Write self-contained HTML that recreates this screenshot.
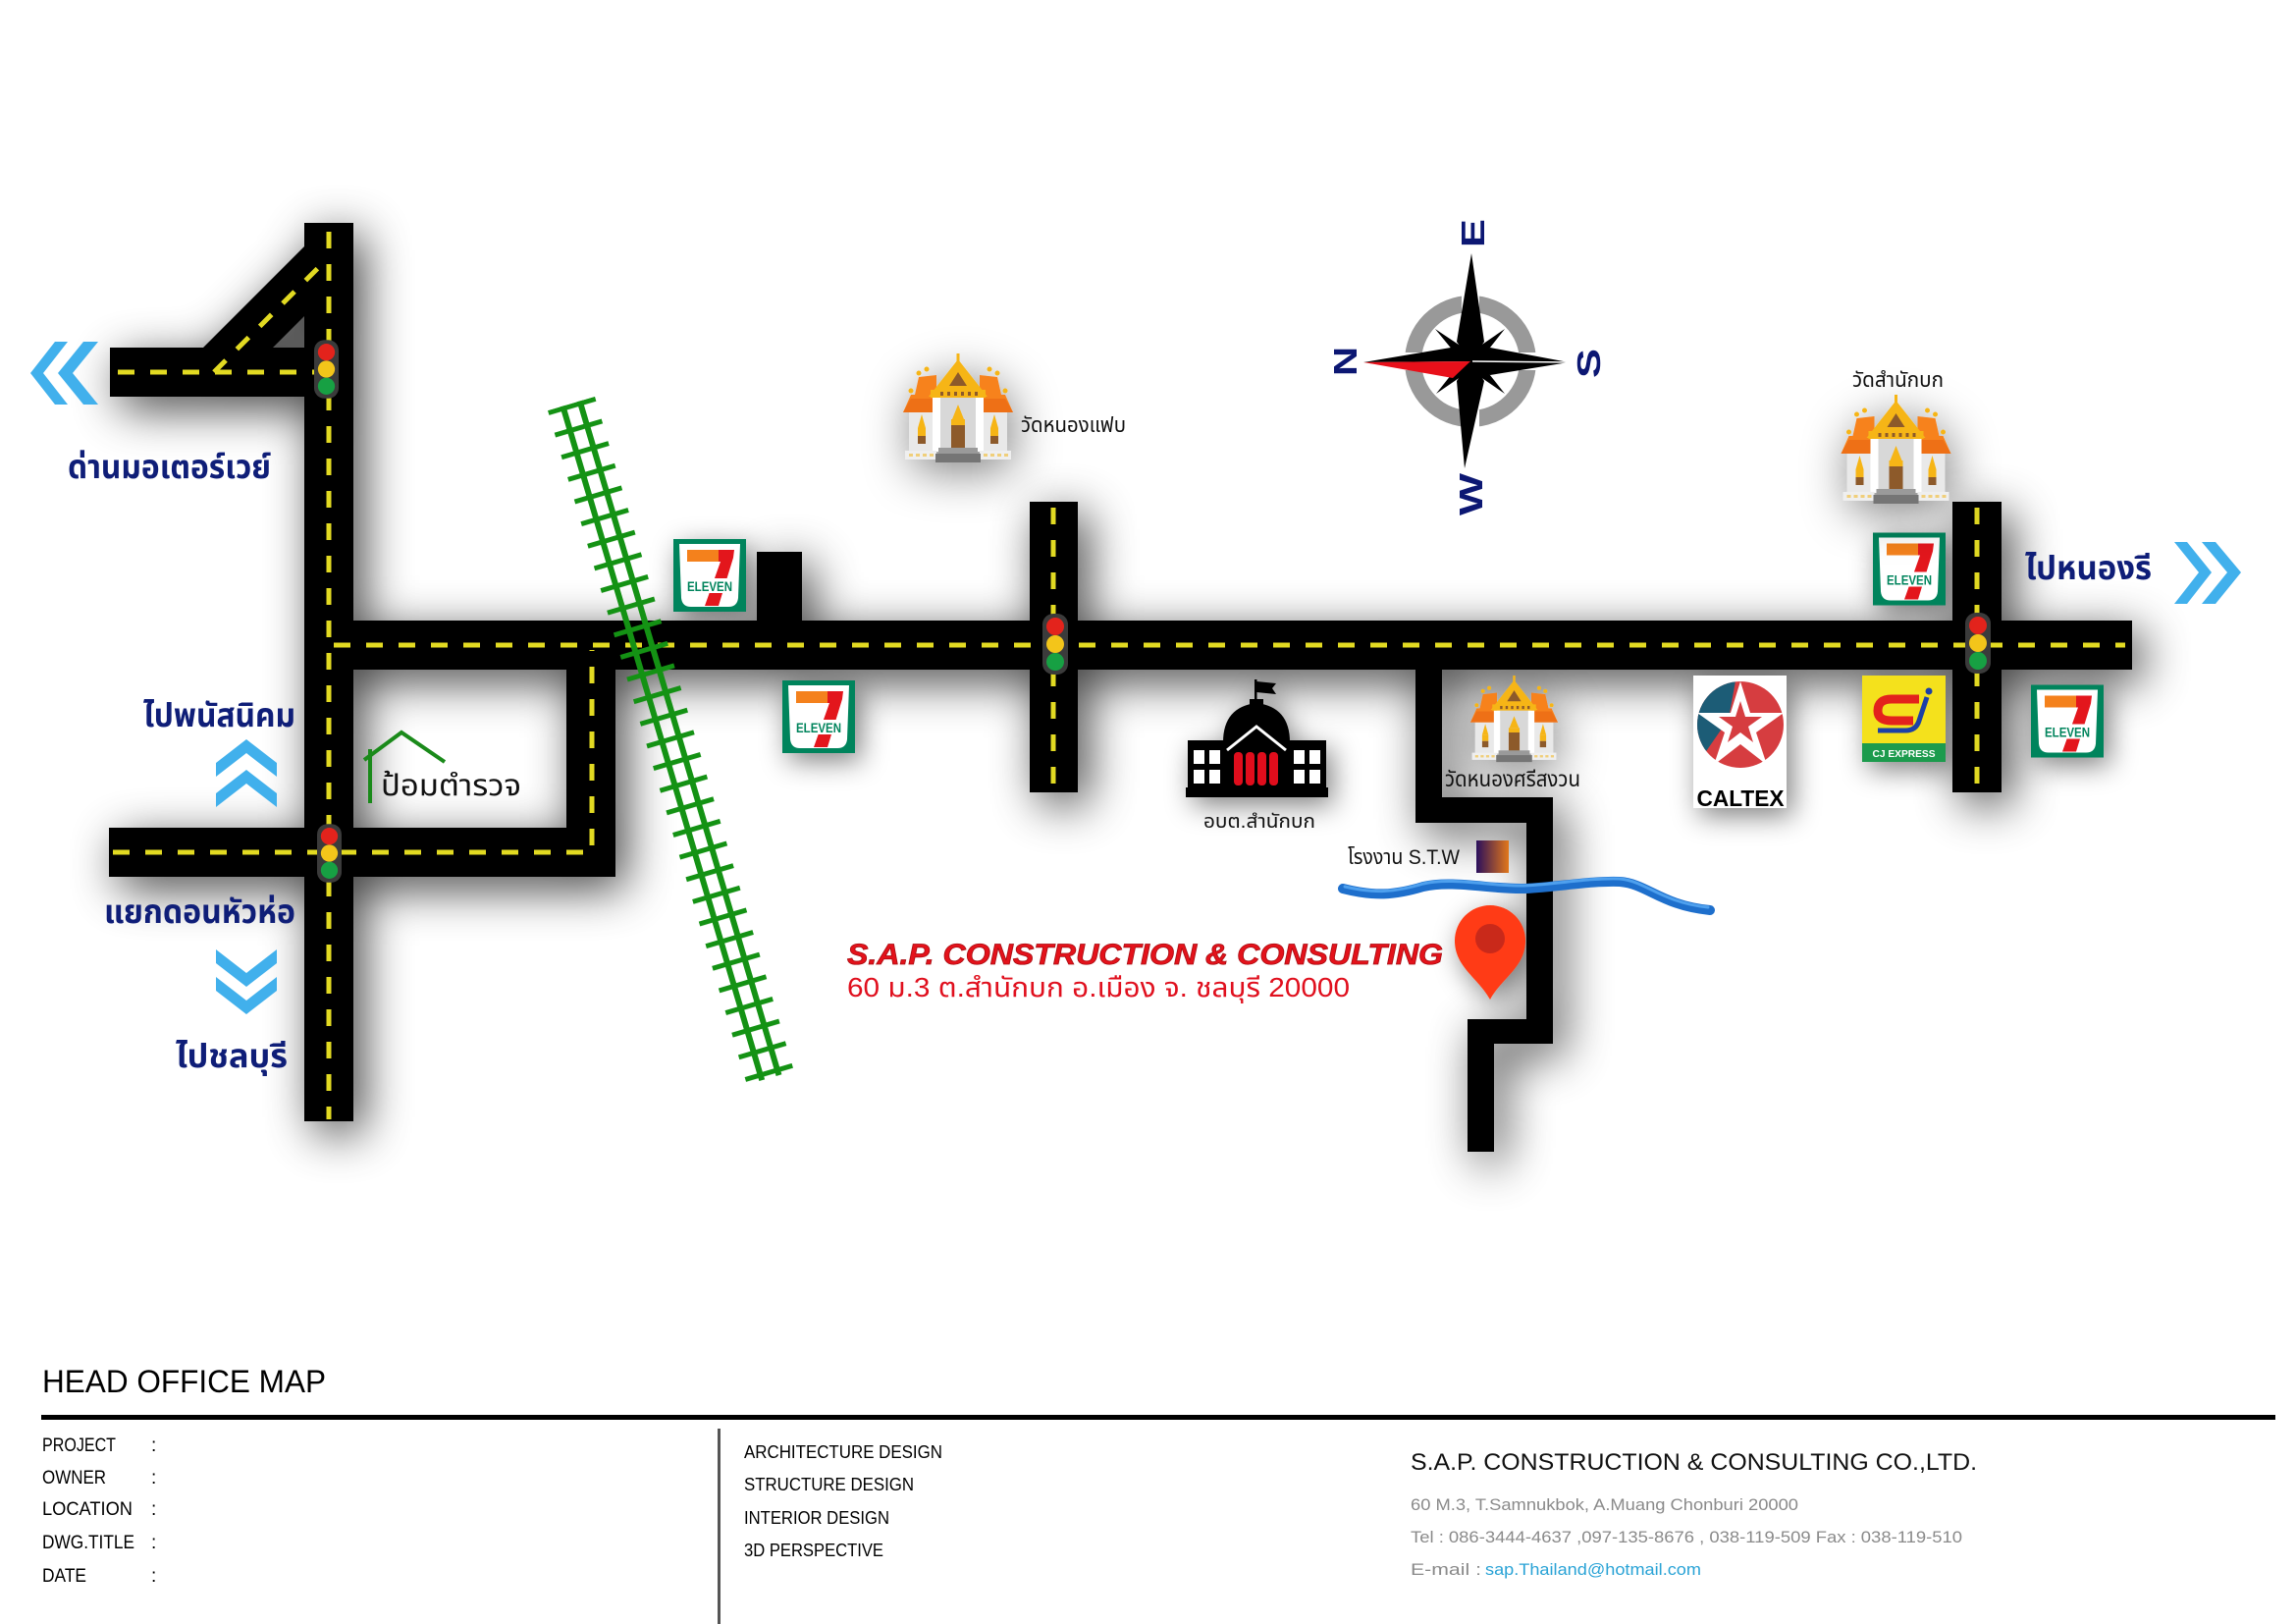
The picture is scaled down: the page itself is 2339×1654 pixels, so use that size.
<!DOCTYPE html>
<html><head><meta charset="utf-8"><style>
html,body{margin:0;padding:0;background:#fff;}
svg{display:block;}
</style></head><body>
<svg xmlns="http://www.w3.org/2000/svg" width="2339" height="1654" viewBox="0 0 2339 1654">
<defs>
<filter id="rs" filterUnits="userSpaceOnUse" x="0" y="0" width="2339" height="1654">
 <feGaussianBlur in="SourceAlpha" stdDeviation="24"/>
 <feOffset dx="10" dy="12"/>
 <feComponentTransfer><feFuncA type="linear" slope="0.75"/></feComponentTransfer>
 <feMerge><feMergeNode/><feMergeNode in="SourceGraphic"/></feMerge>
</filter>
<filter id="is" x="-70%" y="-70%" width="240%" height="240%">
 <feGaussianBlur in="SourceAlpha" stdDeviation="14"/>
 <feOffset dx="6" dy="8"/>
 <feComponentTransfer><feFuncA type="linear" slope="0.5"/></feComponentTransfer>
 <feMerge><feMergeNode/><feMergeNode in="SourceGraphic"/></feMerge>
</filter>
<filter id="ts" x="-100%" y="-100%" width="300%" height="300%">
 <feGaussianBlur in="SourceAlpha" stdDeviation="24"/>
 <feOffset dx="4" dy="10"/>
 <feComponentTransfer><feFuncA type="linear" slope="0.5"/></feComponentTransfer>
 <feMerge><feMergeNode/><feMergeNode in="SourceGraphic"/></feMerge>
</filter>
<pattern id="ties" patternUnits="userSpaceOnUse" width="60" height="23.6">
 <rect x="0" y="0" width="60" height="5" fill="#149214"/>
</pattern>
<symbol id="sev" viewBox="0 0 74 74">
 <rect width="74" height="74" fill="#00845c"/>
 <path d="M6,5 H68 L66,60 Q65,69 56,69 H18 Q9,69 8,60 Z" fill="#fff"/>
 <rect x="14" y="11" width="38" height="12" fill="#f4811f"/>
 <polygon points="46,11 62,11 61,19 46,68 32,68 48,23 46,23" fill="#e3151f"/>
 <rect x="12" y="40" width="50" height="15" fill="#fff"/>
 <text x="37" y="53" font-family="'Liberation Sans Narrow','Liberation Sans',sans-serif" font-weight="bold" font-size="14" fill="#00845c" text-anchor="middle" textLength="46" lengthAdjust="spacingAndGlyphs">ELEVEN</text>
</symbol>
<symbol id="tl" viewBox="0 0 26 62">
 <rect x="0" y="0" width="26" height="62" rx="11" fill="#3b3b3b"/>
 <circle cx="13" cy="13" r="9" fill="#e3231c"/>
 <circle cx="13" cy="31" r="9" fill="#f3c51a"/>
 <circle cx="13" cy="49" r="9" fill="#17a043"/>
</symbol>
<symbol id="temple" viewBox="0 0 112 112">
 <rect x="6" y="56" width="100" height="44" fill="#e9e9e9"/>
 <polygon points="0,60 8,42 12,42 16,24 34,22 34,60" fill="#f7821b"/>
 <polygon points="112,60 104,42 100,42 96,24 78,22 78,60" fill="#f7821b"/>
 <polygon points="0,60 8,46 34,46 34,60" fill="#ee6f12"/>
 <polygon points="112,60 104,46 78,46 78,60" fill="#ee6f12"/>
 <circle cx="8" cy="38" r="2.5" fill="#f6b519"/><circle cx="16" cy="20" r="2.5" fill="#f6b519"/><circle cx="24" cy="16" r="2.5" fill="#f6b519"/>
 <circle cx="104" cy="38" r="2.5" fill="#f6b519"/><circle cx="96" cy="20" r="2.5" fill="#f6b519"/><circle cx="88" cy="16" r="2.5" fill="#f6b519"/>
 <rect x="54.5" y="0" width="3" height="10" fill="#f6b519"/>
 <polygon points="56,6 26,44 86,44" fill="#f6b519"/>
 <polygon points="56,19 47,33 65,33" fill="#8d5a2a"/>
 <rect x="28" y="37" width="56" height="8" fill="#f6b519"/>
 <g fill="#8d5a2a"><rect x="38" y="39" width="3" height="4"/><rect x="45" y="39" width="3" height="4"/><rect x="52" y="39" width="3" height="4"/><rect x="59" y="39" width="3" height="4"/><rect x="66" y="39" width="3" height="4"/><rect x="73" y="39" width="3" height="4"/></g>
 <rect x="38" y="45" width="36" height="52" fill="#d8d8d8"/>
 <rect x="30" y="45" width="8" height="55" fill="#fff"/>
 <rect x="74" y="45" width="8" height="55" fill="#fff"/>
 <polygon points="56,52 50,67 62,67" fill="#f6b519"/>
 <rect x="49" y="67" width="14" height="6" fill="#f6b519"/>
 <rect x="49" y="73" width="14" height="24" fill="#8d5a2a"/>
 <polygon points="19,62 15,76 23,76" fill="#f6b519"/><rect x="15" y="76" width="8" height="8" fill="#f6b519"/><rect x="15" y="84" width="8" height="8" fill="#8d5a2a"/>
 <polygon points="93,62 89,76 97,76" fill="#f6b519"/><rect x="89" y="76" width="8" height="8" fill="#f6b519"/><rect x="89" y="84" width="8" height="8" fill="#8d5a2a"/>
 <rect x="2" y="99" width="32" height="9" fill="#efefef"/><rect x="78" y="99" width="32" height="9" fill="#efefef"/>
 <g fill="#f0cf7a"><rect x="6" y="102" width="4" height="3"/><rect x="13" y="102" width="4" height="3"/><rect x="20" y="102" width="4" height="3"/><rect x="27" y="102" width="4" height="3"/><rect x="82" y="102" width="4" height="3"/><rect x="89" y="102" width="4" height="3"/><rect x="96" y="102" width="4" height="3"/><rect x="103" y="102" width="4" height="3"/></g>
 <rect x="36" y="96" width="40" height="6" fill="#9a9a9a"/>
 <rect x="33" y="102" width="46" height="9" fill="#747474"/>
</symbol>
<symbol id="gov" viewBox="0 0 145 120">
 <rect x="70" y="0" width="2.5" height="26" fill="#000"/>
 <polygon points="72,2 92,4 88,9 92,15 72,13" fill="#000"/>
 <rect x="65" y="20" width="14" height="8" fill="#000"/>
 <path d="M38,64 Q38,28 72,24 Q106,28 106,64 Z" fill="#000"/>
 <rect x="2" y="62" width="141" height="50" fill="#000"/>
 <rect x="0" y="110" width="145" height="10" fill="#000"/>
 <polyline points="42,72 72,48 102,72" fill="none" stroke="#fff" stroke-width="3"/>
 <g fill="#e0101e"><rect x="49" y="74" width="9" height="34" rx="4"/><rect x="61" y="74" width="9" height="34" rx="4"/><rect x="73" y="74" width="9" height="34" rx="4"/><rect x="85" y="74" width="9" height="34" rx="4"/></g>
 <g fill="#fff"><rect x="8" y="72" width="11" height="14"/><rect x="24" y="72" width="11" height="14"/><rect x="8" y="92" width="11" height="14"/><rect x="24" y="92" width="11" height="14"/><rect x="110" y="72" width="11" height="14"/><rect x="126" y="72" width="11" height="14"/><rect x="110" y="92" width="11" height="14"/><rect x="126" y="92" width="11" height="14"/></g>
</symbol>
<clipPath id="calc"><circle cx="48" cy="50" r="44"/></clipPath>
<linearGradient id="stw" x1="0" y1="0" x2="1" y2="0"><stop offset="0" stop-color="#2a0f5c"/><stop offset="1" stop-color="#e2771a"/></linearGradient>
</defs>

<rect width="2339" height="1654" fill="#fff"/>

<!-- ROADS -->
<g filter="url(#rs)" fill="#000">
 <rect x="310" y="227" width="50" height="915"/>
 <rect x="112" y="354" width="200" height="50"/>
 <polygon points="207,354 310,251 310,322 278,354"/>
 <rect x="310" y="632" width="1862" height="50"/>
 <rect x="577" y="660" width="50" height="233"/>
 <rect x="111" y="843" width="516" height="50"/>
 <rect x="771" y="562" width="46" height="80"/>
 <rect x="1049" y="511" width="49" height="296"/>
 <rect x="1989" y="511" width="50" height="296"/>
 <rect x="1442" y="670" width="27" height="168"/>
 <rect x="1442" y="812" width="140" height="26"/>
 <rect x="1555" y="812" width="27" height="251"/>
 <rect x="1495" y="1038" width="87" height="25"/>
 <rect x="1495" y="1038" width="27" height="135"/>
</g>
<g stroke="#e2da22" stroke-width="5" fill="none" stroke-dasharray="17 16">
 <path d="M335,236 V1140"/>
 <path d="M120,379 H330"/>
 <path d="M218,379 L334,263"/>
 <path d="M340,657 H2165"/>
 <path d="M115,868 H603 V662"/>
 <path d="M1073,517 V803"/>
 <path d="M2014,517 V803"/>
</g>

<!-- RAILWAY -->
<g transform="translate(582,411) rotate(-16.46)">
 <rect x="-25" y="0" width="50" height="716" fill="url(#ties)"/>
 <rect x="-12" y="0" width="6" height="716" fill="#149214"/>
 <rect x="6" y="0" width="6" height="716" fill="#149214"/>
</g>

<!-- traffic lights -->
<use href="#tl" x="320" y="345" width="25" height="62"/>
<use href="#tl" x="323" y="838" width="25" height="62"/>
<use href="#tl" x="1062" y="625" width="26" height="62"/>
<use href="#tl" x="2002" y="624" width="26" height="62"/>

<!-- 7-eleven -->
<use href="#sev" x="686" y="549" width="74" height="74" filter="url(#is)"/>
<use href="#sev" x="797" y="693" width="74" height="74" filter="url(#is)"/>
<use href="#sev" x="1908" y="542" width="74" height="75" filter="url(#is)"/>
<use href="#sev" x="2069" y="697" width="74" height="75" filter="url(#is)"/>

<!-- temples -->
<use href="#temple" x="920" y="360" width="112" height="112" filter="url(#ts)"/>
<use href="#temple" x="1875" y="402" width="113" height="112" filter="url(#ts)"/>
<use href="#temple" x="1498" y="688" width="89" height="89" filter="url(#ts)"/>

<!-- government -->
<use href="#gov" x="1208" y="692" width="145" height="120" filter="url(#is)"/>

<!-- Caltex -->
<g transform="translate(1725,688)" filter="url(#is)">
 <rect width="95" height="135" fill="#fff"/>
 <circle cx="48" cy="50" r="44" fill="#d63c40"/>
 <polygon clip-path="url(#calc)" points="0,0 44,0 36,44 0,96" fill="#1b5c76"/>
 <polygon points="48,6 58,38 92,38 64,58 75,91 48,70 21,91 32,58 4,38 38,38" fill="#fff"/>
 <polygon points="48,26 53,42 70,42 56,52 61,68 48,58 35,68 40,52 26,42 43,42" fill="#d63c40"/>
 <text x="48" y="133" font-family="'Liberation Sans',sans-serif" font-weight="bold" font-size="23" text-anchor="middle" textLength="89" lengthAdjust="spacingAndGlyphs">CALTEX</text>
</g>

<!-- CJ express -->
<g transform="translate(1897,688)" filter="url(#is)">
 <rect width="85" height="88" fill="#f4e11c"/>
 <rect y="69" width="85" height="19" fill="#1f9b4d"/>
 <path d="M58,24 H30 Q16,24 16,36 Q16,46 30,46 H52" fill="none" stroke="#e3201b" stroke-width="9"/>
 <path d="M66,22 L58,46 Q55,56 44,56 H16" fill="none" stroke="#1c3fa6" stroke-width="5"/>
 <circle cx="68" cy="16" r="3.5" fill="#1c3fa6"/>
 <text x="42.5" y="83" font-family="'Liberation Sans',sans-serif" font-weight="bold" font-size="10" fill="#fff" text-anchor="middle" textLength="64" lengthAdjust="spacingAndGlyphs">CJ EXPRESS</text>
</g>

<!-- river -->
<path d="M1368,905 C1400,913 1420,912 1450,903 C1480,896 1520,906 1553,905 C1590,903 1620,897 1650,898 C1678,900 1692,922 1742,927" fill="none" stroke="#1e6fcc" stroke-width="10" stroke-linecap="round"/>
<path d="M1370,903 C1400,910 1420,909 1450,900 C1480,893 1520,903 1553,902 C1590,900 1620,894 1650,895 C1676,897 1692,919 1740,924" fill="none" stroke="#4ea0ee" stroke-width="3" stroke-linecap="round"/>
<!-- STW square -->
<rect x="1504" y="856" width="33" height="33" fill="url(#stw)"/>

<!-- pin -->
<path d="M1518,1018 C1506,996 1482,985 1482,958 A36,36 0 1 1 1554,958 C1554,985 1530,996 1518,1018 Z" fill="#ff3b12" filter="url(#is)"/>
<circle cx="1518" cy="956" r="15" fill="#c9291a"/>

<!-- police box -->
<g stroke="#1a8a1a" stroke-width="4" fill="none">
 <polyline points="371,774 409,746 453,776"/>
 <line x1="377" y1="763" x2="377" y2="818"/>
</g>

<!-- chevrons -->
<g fill="#41b0ec">
 <polygon points="31,380 56,348 69,348 44,380 69,412 56,412"/>
 <polygon points="59,380 85,348 100,348 74,380 100,412 85,412"/>
 <polygon points="2253,583 2228,552 2215,552 2240,583 2215,615 2228,615"/>
 <polygon points="2283,583 2257,552 2243,552 2269,583 2243,615 2257,615"/>
 <polygon points="251,753 282,777 282,791 251,767 220,791 220,777"/>
 <polygon points="251,784 282,808 282,822 251,798 220,822 220,808"/>
 <polygon points="220,967 220,981 251,1005 282,981 282,967 251,991"/>
 <polygon points="220,995 220,1009 251,1033 282,1009 282,995 251,1019"/>
</g>

<!-- compass -->
<circle cx="1498" cy="368" r="58.5" fill="none" stroke="#999" stroke-width="17"/>
<g stroke="#fff" stroke-width="18">
 <line x1="1498" y1="295" x2="1498" y2="441"/>
 <line x1="1425" y1="368" x2="1571" y2="368"/>
</g>
<g fill="#000">
 <polygon points="1499,258 1512,348 1498,368 1484,348"/>
 <polygon points="1492,477 1484,388 1498,368 1512,388"/>
 <polygon points="1389,369 1478,354 1498,368"/>
 <polygon points="1598,369 1518,354 1498,368 1518,382"/>
 <polygon points="1462,335 1496.5,358 1498,368 1488,366.5"/>
 <polygon points="1533,335 1508,366.5 1498,368 1499.5,358"/>
 <polygon points="1533,401 1508,369.5 1498,368 1499.5,378"/>
 <polygon points="1463,401 1488,369.5 1498,368 1496.5,378"/>
</g>
<polygon points="1389,369 1498,368 1480,385" fill="#e8101a"/>
<line x1="1500" y1="368" x2="1598" y2="369" stroke="#fff" stroke-width="1.5"/>
<g font-family="'Liberation Sans',sans-serif" font-weight="bold" font-size="33" fill="#0c1773">
 <text transform="translate(1512,237.5) rotate(-90)" text-anchor="middle" textLength="29" lengthAdjust="spacingAndGlyphs">E</text>
 <text transform="translate(1382,368) rotate(-90)" text-anchor="middle" textLength="30" lengthAdjust="spacingAndGlyphs">N</text>
 <text transform="translate(1630,370) rotate(-90)" text-anchor="middle" textLength="30" lengthAdjust="spacingAndGlyphs">S</text>
 <text transform="translate(1510,503.5) rotate(-90)" text-anchor="middle" textLength="43" lengthAdjust="spacingAndGlyphs">W</text>
</g>

<!-- navy direction labels -->
<g font-family="'Liberation Sans','Noto Sans Thai','Noto Sans Thai UI','Loma','Garuda','Norasi','Tlwg Typo','Waree','Sawasdee','Kinnari','DejaVu Sans',sans-serif" font-weight="bold" font-size="34" fill="#0f1e78">
 <text x="69" y="487" textLength="207" lengthAdjust="spacingAndGlyphs">ด่านมอเตอร์เวย์</text>
 <text x="146" y="740" textLength="155" lengthAdjust="spacingAndGlyphs">ไปพนัสนิคม</text>
 <text x="106" y="940" textLength="195" lengthAdjust="spacingAndGlyphs">แยกดอนหัวห่อ</text>
 <text x="179" y="1087" textLength="114" lengthAdjust="spacingAndGlyphs">ไปชลบุรี</text>
 <text x="2063" y="590" textLength="129" lengthAdjust="spacingAndGlyphs">ไปหนองรี</text>
</g>

<!-- black labels -->
<g font-family="'Liberation Sans','Noto Sans Thai','Noto Sans Thai UI','Loma','Garuda','Norasi','Tlwg Typo','Waree','Sawasdee','Kinnari','DejaVu Sans',sans-serif" fill="#111">
 <text x="388" y="810" font-size="30" textLength="143" lengthAdjust="spacingAndGlyphs">ป้อมตำรวจ</text>
 <text x="1040" y="440" font-size="21" textLength="107" lengthAdjust="spacingAndGlyphs">วัดหนองแฟบ</text>
 <text x="1887" y="394" font-size="21" textLength="93" lengthAdjust="spacingAndGlyphs">วัดสำนักบก</text>
 <text x="1472" y="801" font-size="22" textLength="138" lengthAdjust="spacingAndGlyphs">วัดหนองศรีสงวน</text>
 <text x="1226" y="843" font-size="20" textLength="114" lengthAdjust="spacingAndGlyphs">อบต.สำนักบก</text>
 <text x="1373" y="880" font-size="21" textLength="114" lengthAdjust="spacingAndGlyphs">โรงงาน S.T.W</text>
</g>

<!-- company red text -->
<text x="863" y="982" font-family="'Liberation Sans',sans-serif" font-weight="bold" font-style="italic" font-size="30" fill="#e4121b" stroke="#a80d12" stroke-width="0.8" textLength="607" lengthAdjust="spacingAndGlyphs">S.A.P. CONSTRUCTION &amp; CONSULTING</text>
<text x="863" y="1015" font-family="'Liberation Sans','Noto Sans Thai','Loma','Garuda','Waree','DejaVu Sans',sans-serif" font-size="28" fill="#e0101e" textLength="512" lengthAdjust="spacingAndGlyphs">60 ม.3 ต.สำนักบก อ.เมือง จ. ชลบุรี 20000</text>

<!-- TITLE BLOCK -->
<g font-family="'Liberation Sans',sans-serif" fill="#000">
 <text x="43" y="1418" font-size="32" textLength="289" lengthAdjust="spacingAndGlyphs">HEAD OFFICE MAP</text>
 <rect x="42" y="1441" width="2276" height="5" fill="#000"/>
 <g font-size="19">
  <text x="43" y="1478" textLength="75" lengthAdjust="spacingAndGlyphs">PROJECT</text>
  <text x="43" y="1511" textLength="65" lengthAdjust="spacingAndGlyphs">OWNER</text>
  <text x="43" y="1543" textLength="92" lengthAdjust="spacingAndGlyphs">LOCATION</text>
  <text x="43" y="1577" textLength="94" lengthAdjust="spacingAndGlyphs">DWG.TITLE</text>
  <text x="43" y="1611" textLength="45" lengthAdjust="spacingAndGlyphs">DATE</text>
  <text x="154" y="1478">:</text>
  <text x="154" y="1511">:</text>
  <text x="154" y="1543">:</text>
  <text x="154" y="1577">:</text>
  <text x="154" y="1611">:</text>
 </g>
 <rect x="731" y="1455" width="3" height="199" fill="#555"/>
 <g font-size="18">
  <text x="758" y="1485" textLength="202" lengthAdjust="spacingAndGlyphs">ARCHITECTURE DESIGN</text>
  <text x="758" y="1518" textLength="173" lengthAdjust="spacingAndGlyphs">STRUCTURE DESIGN</text>
  <text x="758" y="1552" textLength="148" lengthAdjust="spacingAndGlyphs">INTERIOR DESIGN</text>
  <text x="758" y="1585" textLength="142" lengthAdjust="spacingAndGlyphs">3D PERSPECTIVE</text>
 </g>
 <text x="1437" y="1497" font-size="24" fill="#111" textLength="577" lengthAdjust="spacingAndGlyphs">S.A.P. CONSTRUCTION &amp; CONSULTING CO.,LTD.</text>
 <text x="1437" y="1538" font-size="17" fill="#8a8a8a" textLength="395" lengthAdjust="spacingAndGlyphs">60 M.3, T.Samnukbok, A.Muang Chonburi 20000</text>
 <text x="1437" y="1571" font-size="17" fill="#8a8a8a" textLength="562" lengthAdjust="spacingAndGlyphs">Tel : 086-3444-4637 ,097-135-8676 , 038-119-509 Fax : 038-119-510</text>
 <text x="1437" y="1604" font-size="17" fill="#8a8a8a" textLength="72" lengthAdjust="spacingAndGlyphs">E-mail :</text>
 <text x="1513" y="1604" font-size="17" fill="#2aa3d6" textLength="220" lengthAdjust="spacingAndGlyphs">sap.Thailand@hotmail.com</text>
</g>
</svg>
</body></html>
